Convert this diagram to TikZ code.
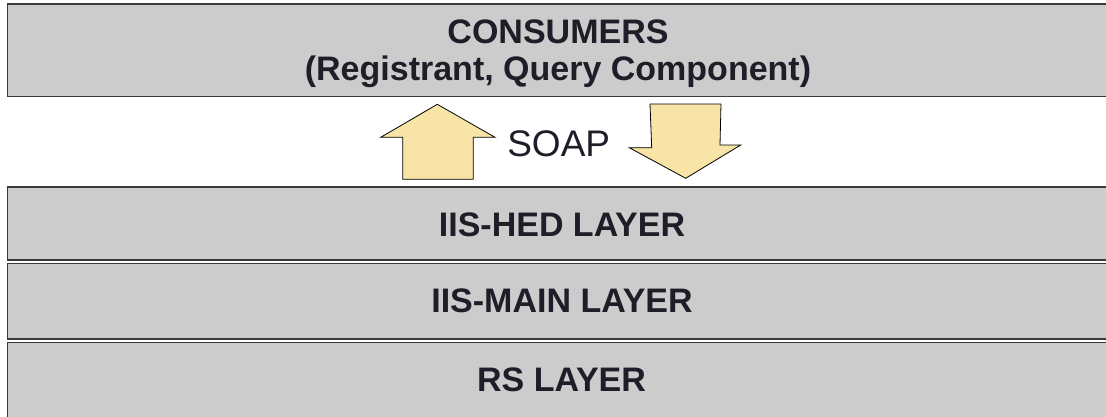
\documentclass[tikz,border=0pt]{standalone}
\usepackage{fontspec}
\setmainfont{Liberation Sans}
\definecolor{layerfill}{HTML}{CCCCCC}
\definecolor{layerline}{HTML}{3A3A3A}
\definecolor{txt}{HTML}{1E1E28}
\definecolor{arrowfill}{HTML}{F8E4A6}
\begin{document}
\begin{tikzpicture}[x=1pt,y=-1pt,
  layer/.style={draw=layerline,line width=1.5pt,fill=layerfill},
  lbl/.style={text=txt,font=\fontsize{34}{37}\selectfont\bfseries,align=center,inner sep=0pt},
  fatarrow/.style={draw=black,line width=0.8pt,fill=arrowfill,line join=miter}]
\useasboundingbox (0,0) rectangle (1106,416);
\fill[white] (0,0) rectangle (1106,416);
% layers
\draw[layer] (7.5,4) rectangle (1112,96.5);
\draw[layer] (7.5,187) rectangle (1112,260);
\draw[layer] (7.5,263.5) rectangle (1112,339);
\draw[layer] (7.5,342.5) rectangle (1112,420);
% labels
\node[lbl] (consumers) at (558,54) {CONSUMERS\\(Registrant, Query Component)};
\node[lbl] (hed) at (562,224.7) {IIS-HED LAYER};
\node[lbl] (main) at (562,300.3) {IIS-MAIN LAYER};
\node[lbl] (rs) at (561.5,380) {RS LAYER};
\node[text=txt,font=\fontsize{37}{40}\selectfont,inner sep=0pt] (soap) at (558.7,144) {SOAP};
% arrows
\draw[fatarrow] (437.3,104.3) -- (495,137.3) -- (473.3,137.3) -- (473.3,179.3)
  -- (402.7,179.3) -- (402.7,137.3) -- (380.7,137.3) -- cycle;
\draw[fatarrow] (650,104) -- (721,104) -- (720,145) -- (740.7,145) -- (685.7,178.3)
  -- (629.3,147.7) -- (651.7,147.7) -- cycle;
\end{tikzpicture}
\end{document}
